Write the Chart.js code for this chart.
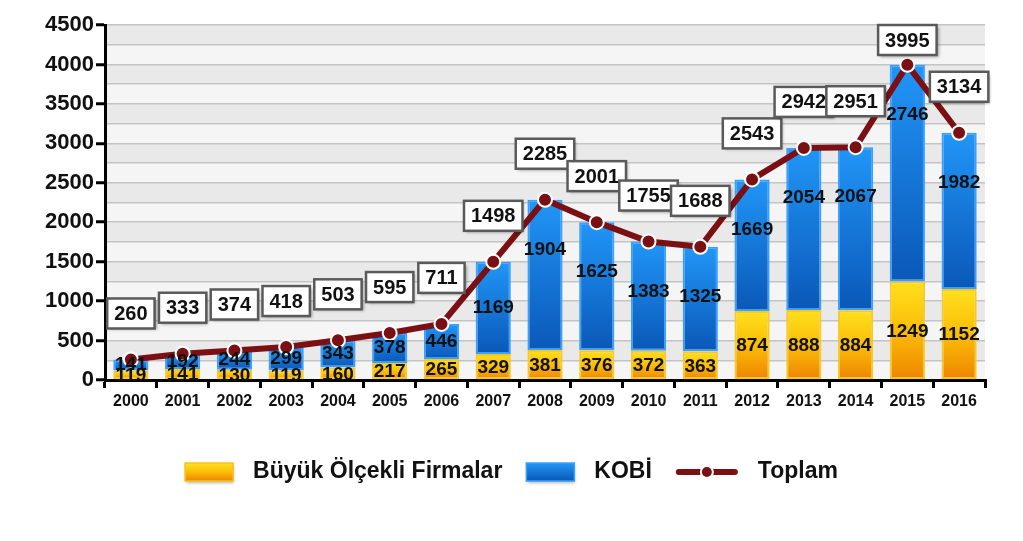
<!DOCTYPE html>
<html>
<head>
<meta charset="utf-8">
<script src="https://cdn.jsdelivr.net/npm/chart.js@4.4.0/dist/chart.umd.min.js"></script>
<style>
  html, body { margin: 0; padding: 0; background: #fff; }
  #wrap { width: 1023px; height: 541px; }
</style>
</head>
<body>
<div id="wrap"><canvas id="chart" width="1023" height="541"></canvas></div>
<script>
const years = ['2000','2001','2002','2003','2004','2005','2006','2007','2008','2009','2010','2011','2012','2013','2014','2015','2016'];
const buyuk = [119, 141, 130, 119, 160, 217, 265, 329, 381, 376, 372, 363, 874, 888, 884, 1249, 1152];
const kobi = [141, 192, 244, 299, 343, 378, 446, 1169, 1904, 1625, 1383, 1325, 1669, 2054, 2067, 2746, 1982];
const toplam = [260, 333, 374, 418, 503, 595, 711, 1498, 2285, 2001, 1755, 1688, 2543, 2942, 2951, 3995, 3134];
const legendNames = ['Büyük Ölçekli Firmalar', 'KOBİ', 'Toplam'];

const FONT = '"Liberation Sans", Arial, sans-serif';
const lineColor = '#7a0f14';

function yellowGrad(ctx, top, bottom) {
    const g = ctx.createLinearGradient(0, top, 0, bottom);
    g.addColorStop(0, '#ffe01e');
    g.addColorStop(0.5, '#fbbd08');
    g.addColorStop(1, '#ee8400');
    return g;
}
function blueGrad(ctx, top, bottom) {
    const g = ctx.createLinearGradient(0, top, 0, bottom);
    g.addColorStop(0, '#2196f7');
    g.addColorStop(1, '#0a58b8');
    return g;
}

// striped background behind the plot
const stripes = {
    id: 'stripes',
    beforeDraw(chart) {
        const { ctx, chartArea: a, scales: { y } } = chart;
        ctx.save();
        ctx.fillStyle = '#fff';
        ctx.fillRect(0, 0, chart.width, chart.height);
        for (let v = 0; v < 4500; v += 250) {
            const y0 = y.getPixelForValue(v), y1 = y.getPixelForValue(v + 250);
            ctx.fillStyle = (v / 250) % 2 === 0 ? '#f5f5f5' : '#e9e9e9';
            ctx.fillRect(a.left, y1, a.right - a.left, y0 - y1);
        }
        ctx.restore();
    }
};

// value labels and total boxes
const valueLabels = {
    id: 'valueLabels',
    afterDatasetsDraw(chart) {
        const ctx = chart.ctx;
        const top = chart.chartArea.top;
        const mB = chart.getDatasetMeta(0), mK = chart.getDatasetMeta(1), mT = chart.getDatasetMeta(2);
        ctx.save();
        ctx.textAlign = 'center';
        ctx.textBaseline = 'middle';
        ctx.fillStyle = '#111';
        ctx.font = 'bold 19px ' + FONT;
        buyuk.forEach((v, i) => {
            const el = mB.data[i];
            ctx.fillText(String(v), el.x, (el.y + el.base) / 2 + 1);
        });
        kobi.forEach((v, i) => {
            const el = mK.data[i];
            const y = Math.min(el.y + 50, (el.y + el.base) / 2);
            ctx.fillText(String(v), el.x, y);
        });
        ctx.font = 'bold 20px ' + FONT;
        toplam.forEach((v, i) => {
            const el = mT.data[i];
            const txt = String(v);
            const w = ctx.measureText(txt).width + 14, h = 30;
            const cx = el.x, cy = Math.max(el.y - 46, top + h / 2);
            ctx.save();
            ctx.shadowColor = 'rgba(0,0,0,0.35)';
            ctx.shadowBlur = 3;
            ctx.shadowOffsetX = 2;
            ctx.shadowOffsetY = 2;
            ctx.fillStyle = '#fff';
            ctx.fillRect(cx - w / 2, cy - h / 2, w, h);
            ctx.restore();
            ctx.lineWidth = 2.5;
            ctx.strokeStyle = '#5a5a5a';
            ctx.strokeRect(cx - w / 2, cy - h / 2, w, h);
            ctx.fillStyle = '#111';
            ctx.fillText(txt, cx, cy + 1);
        });
        ctx.restore();
    }
};

// legend drawn under the axis
const bottomLegend = {
    id: 'bottomLegend',
    afterDraw(chart) {
        const ctx = chart.ctx;
        ctx.save();
        ctx.font = 'bold 23px ' + FONT;
        ctx.textBaseline = 'middle';
        const sym = 48, gapT = 20, gapI = 24, symL = 62;
        const widths = legendNames.map(n => ctx.measureText(n).width);
        const total = sym + gapT + widths[0] + gapI + sym + gapT + widths[1] + gapI + symL + gapT + widths[2];
        let x = chart.width / 2 - total / 2;
        const cy = 472;
        ctx.save();
        ctx.shadowColor = 'rgba(0,0,0,0.3)'; ctx.shadowBlur = 3; ctx.shadowOffsetX = 1; ctx.shadowOffsetY = 2;
        ctx.fillStyle = yellowGrad(ctx, cy - 9, cy + 9);
        ctx.fillRect(x, cy - 9, sym, 18);
        ctx.restore();
        ctx.strokeStyle = '#f7c21a'; ctx.lineWidth = 1.5;
        ctx.strokeRect(x, cy - 9, sym, 18);
        x += sym + gapT;
        ctx.fillStyle = '#111';
        ctx.fillText(legendNames[0], x, cy);
        x += widths[0] + gapI;
        ctx.save();
        ctx.shadowColor = 'rgba(0,0,0,0.3)'; ctx.shadowBlur = 3; ctx.shadowOffsetX = 1; ctx.shadowOffsetY = 2;
        ctx.fillStyle = blueGrad(ctx, cy - 9, cy + 9);
        ctx.fillRect(x, cy - 9, sym, 18);
        ctx.restore();
        ctx.strokeStyle = '#3aa0ff';
        ctx.strokeRect(x, cy - 9, sym, 18);
        x += sym + gapT;
        ctx.fillStyle = '#111';
        ctx.fillText(legendNames[1], x, cy);
        x += widths[1] + gapI;
        ctx.strokeStyle = lineColor; ctx.lineWidth = 6; ctx.lineCap = 'round';
        ctx.beginPath(); ctx.moveTo(x + 3, cy); ctx.lineTo(x + symL - 3, cy); ctx.stroke();
        ctx.beginPath(); ctx.arc(x + symL / 2, cy, 6, 0, Math.PI * 2);
        ctx.fillStyle = lineColor; ctx.fill();
        ctx.lineWidth = 2; ctx.strokeStyle = '#fff'; ctx.stroke();
        x += symL + gapT;
        ctx.fillStyle = '#111';
        ctx.fillText(legendNames[2], x, cy);
        ctx.restore();
    }
};

new Chart(document.getElementById('chart'), {
    type: 'bar',
    data: {
        labels: years,
        datasets: [
            {
                label: legendNames[0],
                data: buyuk,
                order: 2,
                stack: 'bars',
                backgroundColor: c => {
                    const a = c.chart.chartArea;
                    if (!a || c.dataIndex === undefined) return '#f9b800';
                    const y = c.chart.scales.y;
                    return yellowGrad(c.chart.ctx, y.getPixelForValue(buyuk[c.dataIndex]), a.bottom);
                },
                borderColor: '#f7c826',
                borderWidth: 2,
                borderSkipped: false,
                barPercentage: 0.68,
                categoryPercentage: 1
            },
            {
                label: legendNames[1],
                data: kobi,
                order: 2,
                stack: 'bars',
                backgroundColor: c => {
                    const a = c.chart.chartArea;
                    if (!a || c.dataIndex === undefined) return '#1877d8';
                    const y = c.chart.scales.y, i = c.dataIndex;
                    return blueGrad(c.chart.ctx, y.getPixelForValue(buyuk[i] + kobi[i]), y.getPixelForValue(buyuk[i]));
                },
                borderColor: '#3aa0ff',
                borderWidth: 2,
                borderSkipped: false,
                barPercentage: 0.68,
                categoryPercentage: 1
            },
            {
                type: 'line',
                label: legendNames[2],
                data: toplam,
                order: 1,
                stack: 'total',
                borderColor: lineColor,
                borderWidth: 6,
                backgroundColor: lineColor,
                pointRadius: 7,
                pointBorderColor: '#fff',
                pointBorderWidth: 2,
                pointBackgroundColor: lineColor,
                tension: 0
            }
        ]
    },
    options: {
        responsive: false,
        animation: false,
        layout: { padding: { top: 25, right: 38, left: 0, bottom: 0 } },
        plugins: { legend: { display: false }, tooltip: { enabled: false } },
        scales: {
            x: {
                stacked: true,
                offset: true,
                grid: { offset: true, drawOnChartArea: false, color: '#000', tickColor: '#000', tickLength: 8, lineWidth: 3 },
                border: { color: '#000', width: 3 },
                ticks: { color: '#111', font: { family: FONT, weight: 'bold', size: 16 }, padding: 4, maxRotation: 0 },
                afterFit: s => { s.height = 161; }
            },
            y: {
                stacked: true,
                min: 0,
                max: 4500,
                grid: {
                    color: '#c4c4c4',
                    lineWidth: 1.5,
                    tickLength: 9,
                    tickColor: c => (c.tick && c.tick.value % 500 === 0) ? '#000' : 'rgba(0,0,0,0)',
                    tickWidth: 3
                },
                border: { color: '#000', width: 3 },
                ticks: {
                    stepSize: 250,
                    autoSkip: false,
                    color: '#111',
                    font: { family: FONT, weight: 'bold', size: 22 },
                    padding: 2,
                    callback: v => v % 500 === 0 ? String(v) : ''
                },
                afterFit: s => { s.width = 105; }
            }
        }
    },
    plugins: [stripes, valueLabels, bottomLegend]
});
</script>
</body>
</html>
